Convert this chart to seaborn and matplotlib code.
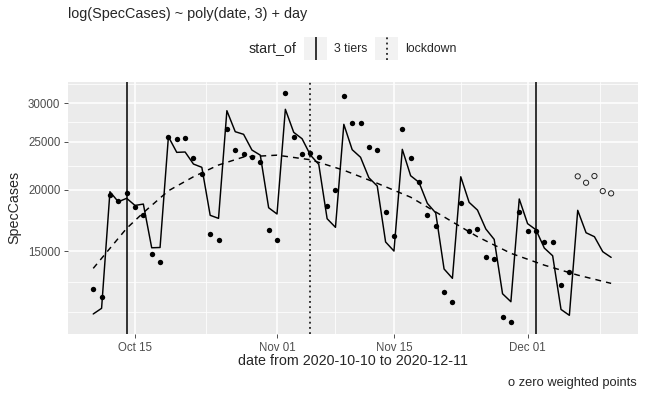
import pandas as pd
import matplotlib.pyplot as plt
import matplotlib.dates as mdates
from matplotlib.ticker import FixedLocator, FuncFormatter, NullFormatter
import seaborn as sns

# daily specimen-date cases, 2020-10-10 .. 2020-12-11
dates = pd.date_range('2020-10-10', '2020-12-11', freq='D')
spec_cases = [12540, 12110, 19470, 18930, 19710, 18430, 17750, 14790, 14220,
              25590, 25310, 25430, 23220, 21480, 16260, 15770,
              26560, 24070, 23630, 23300, 22730, 16530, 15770,
              31390, 25550, 23660, 23770, 23260, 18520, 19960,
              30960, 27350, 27280, 24410, 24040, 18010, 16070,
              26520, 23150, 20750, 17750, 16860, 12380, 11800,
              18750, 16450, 16630, 14580, 14430, 10990, 10740,
              18010, 16450, 16450, 15650, 15670, 12790, 13590,
              21280, 20650, 21310, 19860, 19650]
weight = [1] * 58 + [0] * 5

# fitted values of log(SpecCases) ~ poly(date, 3) + day
fitted = [11170, 11470, 19800, 18890, 19200, 18570, 18690, 15230, 15250,
          25620, 23810, 23850, 22540, 22200, 17730, 17480,
          28940, 26230, 25910, 24070, 23500, 18370, 17840,
          29130, 26150, 25380, 23510, 22510, 17450, 16760,
          27150, 24110, 23270, 21140, 20340, 15650, 15000,
          24150, 21340, 20690, 18750, 17930, 13790, 13200,
          21240, 18840, 18170, 16630, 15840, 12280, 11830,
          19140, 17050, 16570, 15210, 14670, 11410, 11100,
          18150, 16340, 16040, 14950, 14560]

# poly(date, 3) trend, read at a few dates
trend_dates = pd.to_datetime(['2020-10-10', '2020-10-12', '2020-10-14', '2020-10-16',
                              '2020-10-19', '2020-10-22', '2020-10-25', '2020-10-28',
                              '2020-11-01', '2020-11-05', '2020-11-09', '2020-11-13',
                              '2020-11-17', '2020-11-21', '2020-11-25', '2020-11-29',
                              '2020-12-03', '2020-12-07', '2020-12-11'])
trend = [13830, 15190, 16680, 17950, 19890, 21240, 22440, 23300, 23500, 23000,
         21900, 20600, 19300, 17600, 16040, 14840, 14040, 13400, 12890]

# interventions
tier_dates = pd.to_datetime(['2020-10-14', '2020-12-02'])
lockdown_dates = pd.to_datetime(['2020-11-05'])

y_breaks = [15000, 20000, 25000, 30000]
x_breaks = pd.to_datetime(['2020-10-15', '2020-11-01', '2020-11-15', '2020-12-01'])
x_minor = pd.to_datetime(['2020-10-23 12:00', '2020-11-08 00:00',
                          '2020-11-23 00:00', '2020-12-09 15:00'])

df = pd.DataFrame({'date': dates, 'SpecCases': spec_cases, 'weight': weight})

sns.set_theme(style='darkgrid', rc={'axes.facecolor': '#EBEBEB', 'grid.color': 'white'})
plt.rcParams['font.family'] = ['Liberation Sans', 'DejaVu Sans']

W, H = 645, 398
fig = plt.figure(figsize=(W / 100, H / 100), dpi=100)
fig.patch.set_facecolor('white')
L, R, T, B = 68, 637.7, 81.7, 334
ax = fig.add_axes([L / W, 1 - B / H, (R - L) / W, (B - T) / H])

ax.set_yscale('log')

for d in tier_dates:
    ax.axvline(d, color='black', lw=1.1, zorder=2)
for d in lockdown_dates:
    ax.axvline(d, color='black', lw=1.1, ls=(0, (1.2, 2.2)), zorder=2)

sns.lineplot(x=dates, y=fitted, color='black', lw=1.05, estimator=None, ax=ax, zorder=3)
sns.lineplot(x=trend_dates, y=trend, color='black', lw=1.05, estimator=None,
             linestyle=(0, (4, 3.5)), ax=ax, zorder=3)
sns.scatterplot(data=df[df.weight == 1], x='date', y='SpecCases', color='black',
                s=15, linewidth=0, ax=ax, zorder=4)
sns.scatterplot(data=df[df.weight == 0], x='date', y='SpecCases', color='none',
                edgecolor='#222222', s=14, linewidth=0.7, ax=ax, zorder=4)

ax.set_ylim(10170, 33150)
ax.set_xlim(pd.Timestamp('2020-10-06 23:30'), pd.Timestamp('2020-12-14 04:20'))

# grid like ggplot
ax.yaxis.set_major_locator(FixedLocator(y_breaks))
ax.yaxis.set_major_formatter(FuncFormatter(lambda v, p: f'{v:.0f}'))
ax.yaxis.set_minor_locator(FixedLocator([11250, 12990, 17321, 22361, 27386, 32863]))
ax.yaxis.set_minor_formatter(NullFormatter())
ax.xaxis.set_major_locator(FixedLocator(mdates.date2num(x_breaks)))
ax.xaxis.set_major_formatter(mdates.DateFormatter('%b %d'))
ax.xaxis.set_minor_locator(FixedLocator(mdates.date2num(x_minor)))
ax.grid(which='major', color='white', lw=1.1)
ax.grid(which='minor', color='white', lw=0.55)
for s in ax.spines.values():
    s.set_visible(False)
ax.tick_params(which='major', length=3, width=0.6, color='#333333', pad=2.5,
               labelsize=8.3, labelcolor='#4D4D4D', left=True, bottom=True)
ax.tick_params(which='minor', length=0)

ax.set_xlabel('date from 2020-10-10 to 2020-12-11', fontsize=10.3)
ax.set_ylabel('SpecCases', fontsize=10.3)
ax.xaxis.set_label_coords(0.5, (B - 361) / (B - T))
ax.yaxis.set_label_coords((14 - L) / (R - L), 0.5)
ax.xaxis.label.set_va('center')
ax.yaxis.label.set_va('center')

fig.text(L / W, 1 - 14 / H, 'log(SpecCases) ~ poly(date, 3) + day', fontsize=10.4, va='center')
fig.text(637 / W, 1 - 383 / H, 'o zero weighted points', fontsize=9.3, ha='right', va='center')

# legend: start_of
fig.text(249 / W, 1 - 48.5 / H, 'start_of', fontsize=10.3, va='center')
for x0, label, style in [(304.3, '3 tiers', '-'), (375.3, 'lockdown', (0, (1.2, 2.2)))]:
    kax = fig.add_axes([x0 / W, 1 - 60 / H, 22.4 / W, 23 / H])
    kax.set_facecolor('#F2F2F2')
    kax.axvline(0.5, color='black', lw=1.1, ls=style)
    kax.set_xlim(0, 1)
    kax.set_ylim(0, 1)
    kax.set_xticks([])
    kax.set_yticks([])
    kax.grid(False)
    for s in kax.spines.values():
        s.set_visible(False)
    fig.text((x0 + 29.7) / W, 1 - 48.5 / H, label, fontsize=8.8, va='center')

fig.savefig('out.png', dpi=100)
